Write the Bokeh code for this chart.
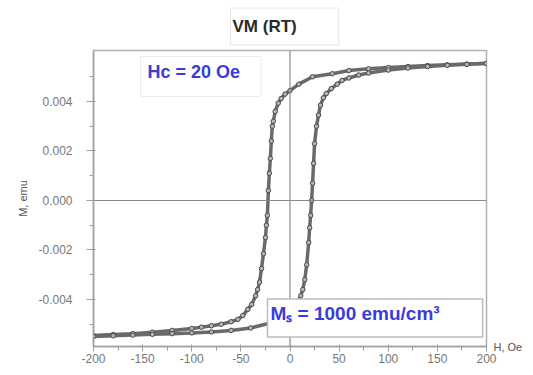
from bokeh.plotting import figure
from bokeh.models import Range1d, FixedTicker, Span, Label, LinearAxis
from bokeh.embed import file_html
from bokeh.resources import INLINE

# ---- data ----
h_down = [200, 180, 160, 140, 120, 100, 80, 60, 43, 23, 9, 0, -5, -9, -12, -15, -17,
          -18, -19, -20, -21, -22, -23, -24, -25, -27, -29, -31, -33, -35, -39, -43,
          -48, -53, -60, -70, -80, -90, -100, -120, -140, -160, -180, -200]
m_down = [0.00553, 0.00551, 0.00548, 0.00545, 0.00541, 0.00537, 0.00532, 0.00525,
          0.00512, 0.00500, 0.00470, 0.00444, 0.00430, 0.00412, 0.00393, 0.00360,
          0.00320, 0.00300, 0.00240, 0.00170, 0.00110, 0.00040, -0.00060, -0.00100,
          -0.00150, -0.00215, -0.00275, -0.00330, -0.00360, -0.00385, -0.00420,
          -0.00440, -0.00465, -0.00480, -0.00490, -0.00500, -0.00506, -0.00512,
          -0.00517, -0.00525, -0.00532, -0.00538, -0.00542, -0.00546]

h_up = [-200, -180, -160, -140, -120, -100, -80, -60, -40, -20, -10, 0, 4, 8, 11, 13,
        15, 17, 19, 20, 21, 22, 23, 24, 25, 27, 29, 31, 34, 37, 42, 48, 53, 60, 70,
        80, 100, 120, 140, 160, 180, 200]
m_up = [-0.00550, -0.00547, -0.00544, -0.00541, -0.00538, -0.00535, -0.00531,
        -0.00525, -0.00515, -0.00495, -0.00482, -0.00462, -0.00440, -0.00410,
        -0.00385, -0.00360, -0.00320, -0.00260, -0.00170, -0.00110, -0.00060,
        0.00000, 0.00070, 0.00150, 0.00230, 0.00300, 0.00345, 0.00385, 0.00415,
        0.00432, 0.00452, 0.00470, 0.00485, 0.00495, 0.00507, 0.00515, 0.00527,
        0.00535, 0.00541, 0.00546, 0.00550, 0.00554]

x_ticks = [-200, -150, -100, -50, 0, 50, 100, 150, 200]
x_minor = [-175, -125, -75, -25, 25, 75, 125, 175]
y_ticks = [-0.004, -0.002, 0.0, 0.002, 0.004]
y_tick_labels = ["-0.004", "-0.002", "0.000", "0.002", "0.004"]
y_minor = [-0.005, -0.003, -0.001, 0.001, 0.003, 0.005]

title_text = "VM (RT)"
hc_text = "Hc = 20 Oe"
ms_text = "M\u209b = 1000 emu/cm\u00b3"
x_label = "H, Oe"
y_label = "M, emu"

FONT = "Liberation Sans"
W, H = 525, 367
Y0, Y1 = -0.0059, 0.00606

p = figure(width=W, height=H, x_range=Range1d(-200, 200),
           y_range=Range1d(Y0, Y1), output_backend="svg",
           toolbar_location=None, min_border_left=93, min_border_right=38,
           min_border_top=50, min_border_bottom=21)
p.background_fill_color = "white"
p.border_fill_color = "white"
p.outline_line_color = "#b0b0b0"
p.outline_line_width = 1.5
p.xgrid.visible = False
p.ygrid.visible = False

# title in a faint box
p.title.text = title_text
p.title.align = "left"
p.title.offset = 137
p.title.standoff = 11
p.title.text_font = FONT
p.title.text_font_size = "17px"
p.title.text_font_style = "bold"
p.title.text_color = "#2a2a2a"
p.title.background_fill_color = "white"
p.title.border_line_color = "#e6e6e6"
p.title.padding = dict(left=2, right=42, top=9, bottom=9)

p.xaxis.ticker = FixedTicker(ticks=x_ticks, minor_ticks=x_minor)
p.yaxis.ticker = FixedTicker(ticks=y_ticks, minor_ticks=y_minor)
p.yaxis.major_label_overrides = {t: l for t, l in zip(y_ticks, y_tick_labels)}
p.xaxis.major_label_overrides = {t: str(t) for t in x_ticks}

for ax in (p.xaxis[0], p.yaxis[0]):
    ax.axis_line_color = "#a0a0a0"
    ax.axis_line_width = 1.5
    ax.major_tick_line_color = "#a0a0a0"
    ax.minor_tick_line_color = "#a0a0a0"
    ax.major_tick_in = 2
    ax.minor_tick_in = 0
    ax.minor_tick_out = 4
    ax.major_label_text_font = FONT
    ax.major_label_text_font_size = "12px"
    ax.major_label_text_color = "#777777"
p.xaxis.major_tick_out = 5
p.yaxis.major_tick_out = 7
p.xaxis.major_label_standoff = 2
p.yaxis.major_label_standoff = 14
p.yaxis.axis_label = y_label
p.yaxis.axis_label_text_font = FONT
p.yaxis.axis_label_text_font_size = "11px"
p.yaxis.axis_label_text_font_style = "normal"
p.yaxis.axis_label_text_color = "#555555"
p.yaxis.axis_label_standoff = 6

# "H, Oe" at the right end of the x axis, via a bare right-side axis
hax = LinearAxis(ticker=FixedTicker(ticks=[Y0]),
                 major_label_overrides={Y0: x_label},
                 axis_line_color=None, major_tick_line_color=None,
                 minor_tick_line_color=None, major_tick_out=0, major_tick_in=0,
                 major_label_standoff=7, major_label_text_font=FONT,
                 major_label_text_font_size="11px",
                 major_label_text_color="#555555")
p.add_layout(hax, "right")

p.add_layout(Span(location=0, dimension="width", line_color="#8a8a8a", line_width=1.2))
p.add_layout(Span(location=0, dimension="height", line_color="#8a8a8a", line_width=1.2))

for hs, ms in ((h_down, m_down), (h_up, m_up)):
    p.line(hs, ms, line_color="#6a6a6a", line_width=3.5)
    p.scatter(hs, ms, marker="circle", size=4.5, line_color="#4a4a4a",
              fill_color="#b5b5b5", line_width=1)

# text boxes (canvas pixel units, measured from the top-left)
p.add_layout(Label(x=140, y=76, x_units="canvas", y_units="canvas",
                   text=hc_text, text_font=FONT,
                   text_font_size="18px", text_font_style="bold",
                   text_color="#3b3bd9", text_baseline="middle",
                   background_fill_color="white", border_line_color="#ececec",
                   padding=dict(left=7, right=21, top=5, bottom=15)))
p.add_layout(Label(x=267, y=317.5, x_units="canvas", y_units="canvas",
                   text=ms_text, text_font=FONT,
                   text_font_size="19px", text_font_style="bold",
                   text_color="#3b3bd9", text_baseline="middle",
                   background_fill_color="white", border_line_color="#bdbdbd",
                   border_line_width=1.5,
                   padding=dict(left=3, right=43, top=4, bottom=13)))

open("out.html", "w").write(file_html(p, INLINE))
